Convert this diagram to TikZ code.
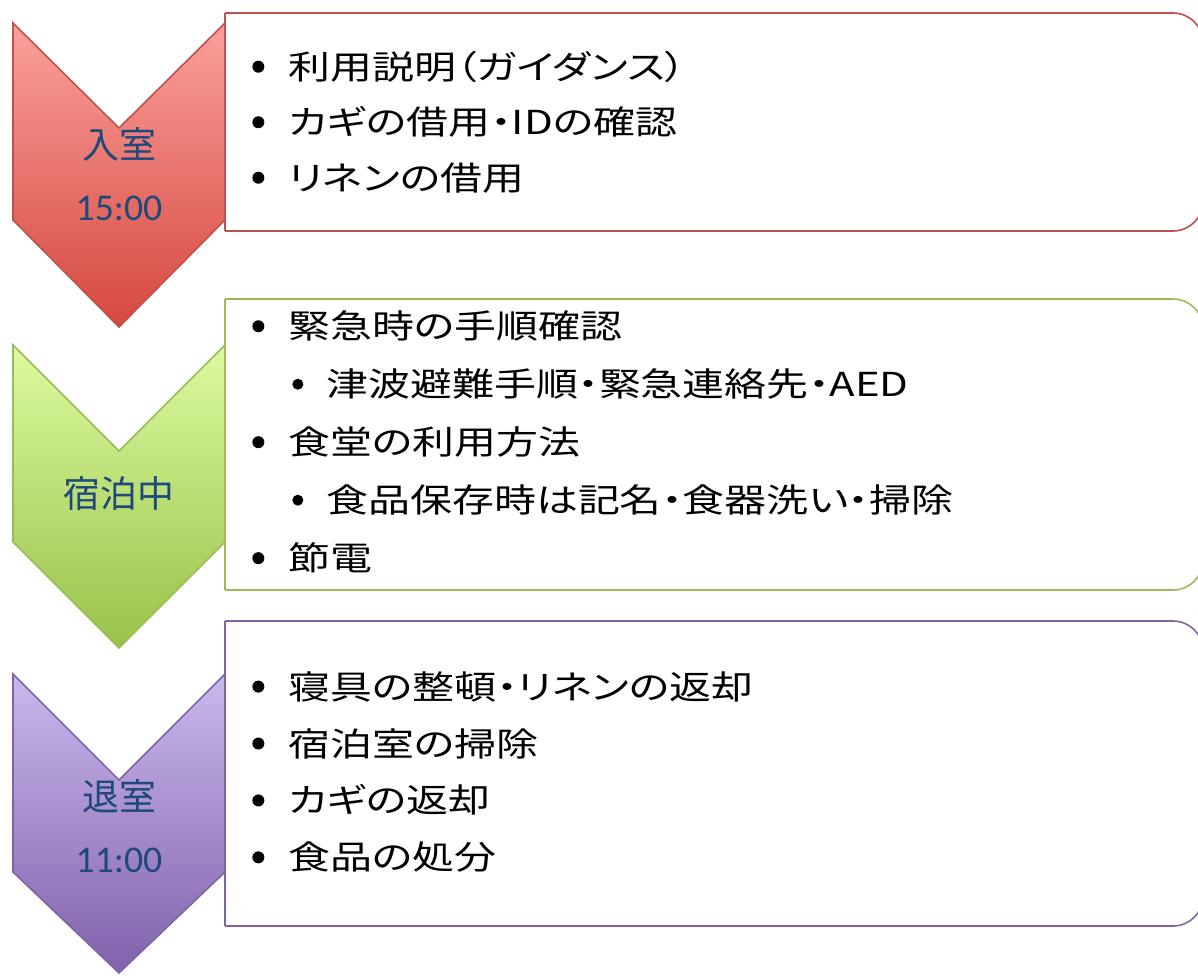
\documentclass[tikz,border=0pt]{standalone}
\usepackage{fontspec}
\setmainfont{Noto Sans CJK JP}
\newfontfamily\listfont[FakeStretch=1.27,RawFeature=+palt]{Noto Sans CJK JP}
\newfontfamily\timefont{Carlito}
\usepackage{tikz}
\definecolor{steptext}{RGB}{31,73,125}
\definecolor{stepred}{RGB}{192,80,77}
\definecolor{stepredtop}{RGB}{250,160,155}
\definecolor{stepredbot}{RGB}{213,72,62}
\definecolor{stepgreen}{RGB}{155,187,89}
\definecolor{stepgreentop}{RGB}{220,250,160}
\definecolor{stepgreenbot}{RGB}{152,194,72}
\definecolor{steppurple}{RGB}{128,100,162}
\definecolor{steppurpletop}{RGB}{202,184,236}
\definecolor{steppurplebot}{RGB}{128,98,172}
% bullets as small filled dots
\newcommand{\mainitem}{\makebox[0.72cm][l]{\tikz[baseline=0pt]\fill (0.12cm,0.25cm) circle[radius=0.12cm];}}
\newcommand{\inneritem}{\hspace*{0.8cm}\makebox[0.68cm][l]{\tikz[baseline=0pt]\fill (0.11cm,0.25cm) circle[radius=0.11cm];}}
\tikzset{
  stepbox/.style={line width=0.9pt},
  steplabel/.style={text=steptext, font=\fontsize{21pt}{35pt}\selectfont, align=center, inner sep=0pt},
  itemlist/.style={anchor=west, align=left, inner sep=0pt, text=black},
}

\begin{document}
\begin{tikzpicture}[x=0.02cm, y=-0.02cm]
    \useasboundingbox (0,0) rectangle (1198,975);

    % check-in
    \shade[top color=stepredtop, bottom color=stepredbot, draw=stepred, stepbox]
        (13,23) -- (119,128) -- (225,23) -- (225,220) -- (119,327) -- (13,220) -- cycle;
    \node[steplabel] (inlabel) at (119,174) {入室\\{\timefont\fontsize{21.5pt}{35pt}\selectfont 15:00}};
    \draw[stepred, stepbox, rounded corners=17pt] (225,13) -- (1203,13) -- (1203,231) -- (225,231);
    \draw[stepred, stepbox] (225,13) -- (225,231);
    \node[itemlist, font=\listfont\fontsize{18.8pt}{31.6pt}\selectfont] (initems) at (252,122) {
        \mainitem 利用説明（ガイダンス）\\
        \mainitem カギの借用・IDの確認\\
        \mainitem リネンの借用
    };

    % stay
    \shade[top color=stepgreentop, bottom color=stepgreenbot, draw=stepgreen, stepbox]
        (13,345) -- (119,451) -- (225,345) -- (225,542) -- (119,648) -- (13,542) -- cycle;
    \node[steplabel] (staylabel) at (119,494) {宿泊中};
    \draw[stepgreen, stepbox, rounded corners=17pt] (225,299) -- (1203,299) -- (1203,590) -- (225,590);
    \draw[stepgreen, stepbox] (225,299) -- (225,590);
    \node[itemlist, font=\listfont\fontsize{18.8pt}{33pt}\selectfont] (stayitems) at (252,442) {
        \mainitem 緊急時の手順確認\\
        \inneritem 津波避難手順・緊急連絡先・AED\\
        \mainitem 食堂の利用方法\\
        \inneritem 食品保存時は記名・食器洗い・掃除\\
        \mainitem 節電
    };

    % check-out
    \shade[top color=steppurpletop, bottom color=steppurplebot, draw=steppurple, stepbox]
        (13,674) -- (119,780) -- (225,674) -- (225,872) -- (119,973) -- (13,872) -- cycle;
    \node[steplabel] (outlabel) at (119,826) {退室\\{\timefont\fontsize{21.5pt}{35pt}\selectfont 11:00}};
    \draw[steppurple, stepbox, rounded corners=17pt] (225,621) -- (1203,621) -- (1203,926) -- (225,926);
    \draw[steppurple, stepbox] (225,621) -- (225,926);
    \node[itemlist, font=\listfont\fontsize{18.8pt}{32.4pt}\selectfont] (outitems) at (252,772) {
        \mainitem 寝具の整頓・リネンの返却\\
        \mainitem 宿泊室の掃除\\
        \mainitem カギの返却\\
        \mainitem 食品の処分
    };
\end{tikzpicture}
\end{document}
